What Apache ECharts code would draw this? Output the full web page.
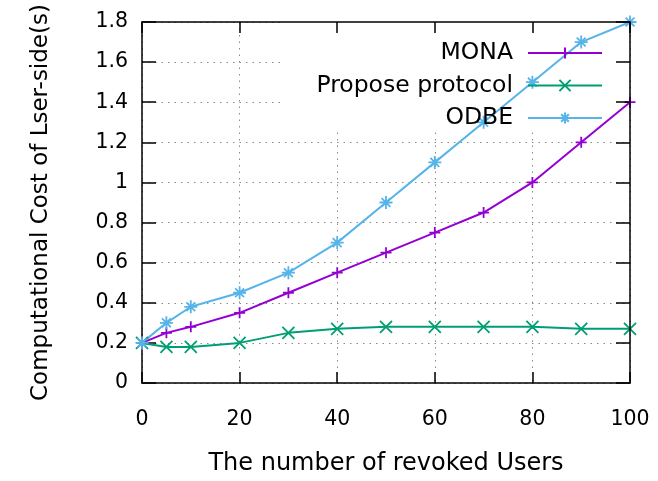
<!DOCTYPE html>
<html>
<head>
<meta charset="utf-8">
<script src="https://cdn.jsdelivr.net/npm/echarts@6/dist/echarts.min.js"></script>
<style>html,body{margin:0;padding:0;background:#fff;}#c{width:658px;height:481px;}</style>
</head>
<body>
<div id="c"></div>
<script>
const xValues = [0, 5, 10, 20, 30, 40, 50, 60, 70, 80, 90, 100];
const monaValues = [0.2, 0.25, 0.28, 0.35, 0.45, 0.55, 0.65, 0.75, 0.85, 1.0, 1.2, 1.4];
const proposeValues = [0.2, 0.18, 0.18, 0.2, 0.25, 0.27, 0.28, 0.28, 0.28, 0.28, 0.27, 0.27];
const odbeValues = [0.2, 0.3, 0.38, 0.45, 0.55, 0.7, 0.9, 1.1, 1.3, 1.5, 1.7, 1.8];
const seriesNames = ['MONA', 'Propose protocol', 'ODBE'];
const xTitle = 'The number of revoked Users';
const yTitle = 'Computational Cost of Lser-side(s)';

const FONT = 'DejaVu Sans';
const pair = (vals) => xValues.map((x, i) => [x, vals[i]]);

const PLUS = 'path://M5,0L5,10M0,5L10,5';
const CROSS = 'path://M0,0L10,10M10,0L0,10';
const STAR = 'path://M5,0L5,10M0,5L10,5M1.6,1.6L8.4,8.4M8.4,1.6L1.6,8.4';

function mkSeries(name, vals, color, symbol, size, extra) {
  return Object.assign({
    name: name,
    type: 'line',
    data: pair(vals),
    symbol: symbol,
    symbolSize: size,
    showAllSymbol: true,
    clip: false,
    lineStyle: { color: color, width: 2 },
    itemStyle: { color: color, borderColor: color, borderWidth: 1.8 },
    emphasis: { disabled: true },
    animation: false,
    z: 2
  }, extra || {});
}

const axisLine = { show: true, onZero: false, lineStyle: { color: '#000', width: 1.5 } };
const split = { show: true, lineStyle: { color: '#8a8a8a', width: 1, type: [1.5, 5] } };
const xTick = { show: true, inside: true, length: 11, lineStyle: { color: '#000', width: 1.5 } };
const yTick = { show: true, inside: true, length: 14, lineStyle: { color: '#000', width: 1.5 } };

const chart = echarts.init(document.getElementById('c'), null, { renderer: 'canvas' });
chart.setOption({
  backgroundColor: '#fff',
  animation: false,
  grid: { left: 142, right: 28, top: 22, bottom: 94, containLabel: false },
  legend: {
    orient: 'vertical',
    right: 50,
    top: 36,
    align: 'right',
    itemWidth: 74,
    itemHeight: 14,
    itemGap: 8.5,
    selectedMode: false,
    textStyle: { fontFamily: FONT, fontSize: 23.5, color: '#000', padding: [0, 10, 0, 0] },
    data: seriesNames
  },
  xAxis: [
    {
      type: 'value', min: 0, max: 100, interval: 20, position: 'bottom',
      axisLine: axisLine, axisTick: xTick,
      axisLabel: { fontFamily: FONT, fontSize: 20.5, color: '#000', margin: 26 },
      splitLine: split,
      name: xTitle, nameLocation: 'middle', nameGap: 69,
      nameTextStyle: { fontFamily: FONT, fontSize: 24, color: '#000' }
    },
    {
      type: 'value', min: 0, max: 100, interval: 20, position: 'top', z: 5,
      axisLine: axisLine, axisTick: xTick,
      axisLabel: { show: false },
      splitLine: { show: false }
    }
  ],
  yAxis: [
    {
      type: 'value', min: 0, max: 1.8, interval: 0.2, position: 'left',
      axisLine: axisLine, axisTick: yTick,
      axisLabel: { fontFamily: FONT, fontSize: 20.5, color: '#000', margin: 14,
        padding: [4, 0, 0, 0],
        formatter: (v) => String(Math.round(v * 10) / 10) },
      splitLine: split,
      name: yTitle, nameLocation: 'middle', nameGap: 89, nameRotate: 90,
      nameTextStyle: { fontFamily: FONT, fontSize: 23, color: '#000' }
    },
    {
      type: 'value', min: 0, max: 1.8, interval: 0.2, position: 'right', z: 5,
      axisLine: axisLine, axisTick: yTick,
      axisLabel: { show: false },
      splitLine: { show: false }
    }
  ],
  series: [
    mkSeries(seriesNames[0], monaValues, '#9400d3', PLUS, 11, {
      markArea: {
        silent: true,
        z: 1,
        itemStyle: { color: '#fff', borderWidth: 0 },
        label: { show: false },
        data: [[{ coord: [29, 1.26] }, { coord: [100, 1.8] }]]
      }
    }),
    mkSeries(seriesNames[1], proposeValues, '#009e73', CROSS, 12),
    mkSeries(seriesNames[2], odbeValues, '#56b4e9', STAR, 13)
  ]
});
</script>
</body>
</html>
